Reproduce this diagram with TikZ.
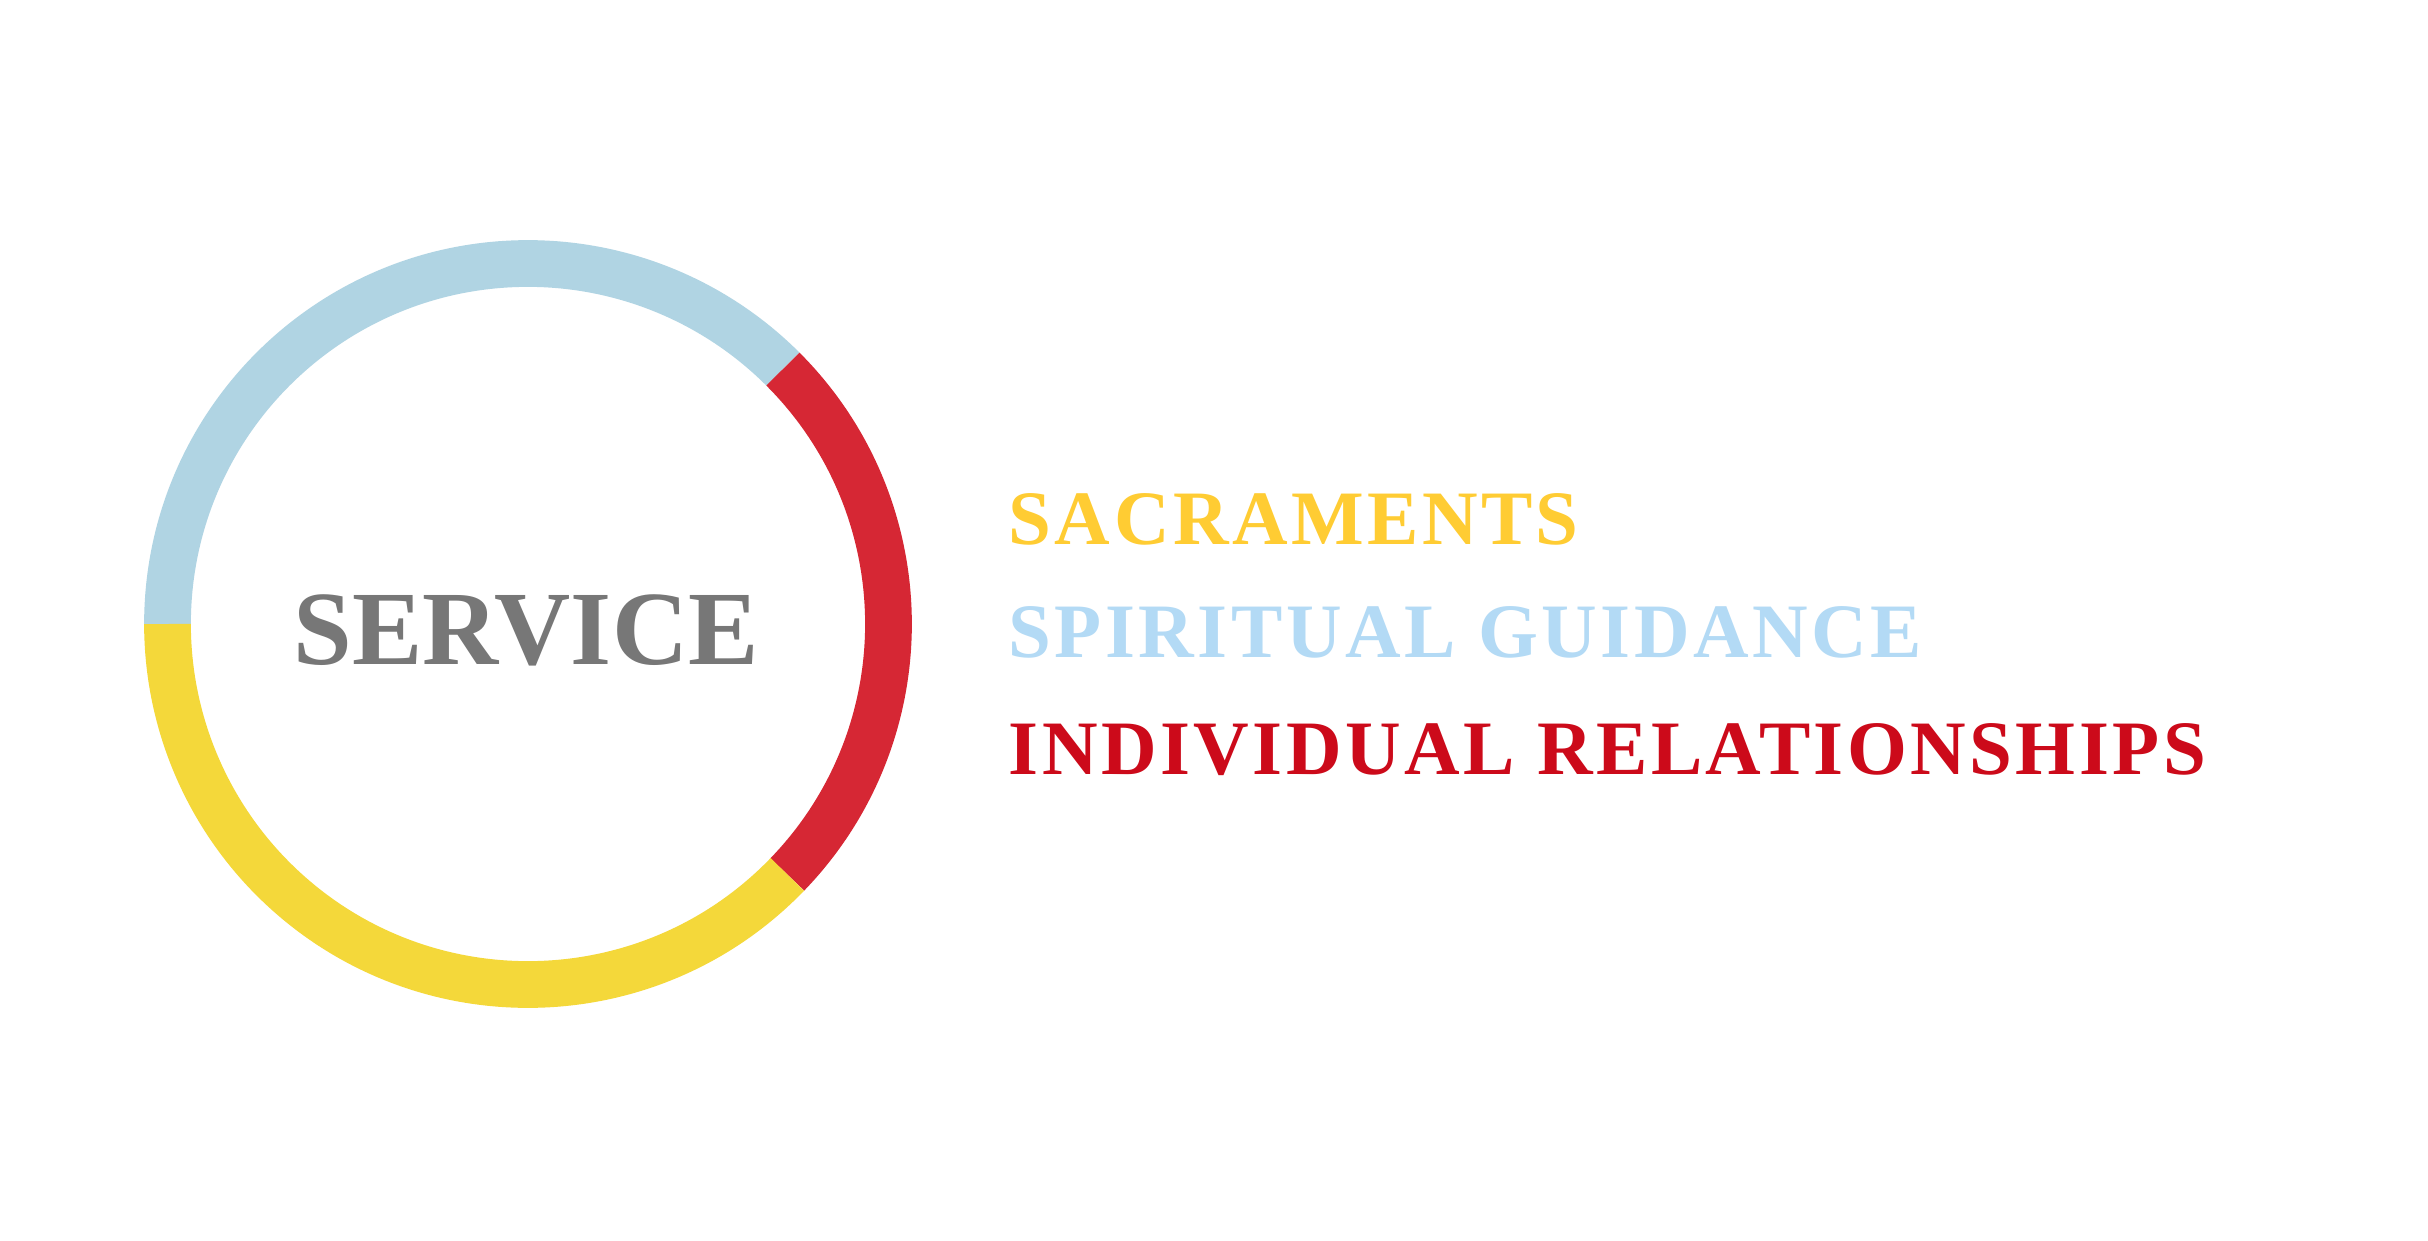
\documentclass[tikz,border=0pt]{standalone}
\usepackage{fontspec}
\usepackage{tikz}
\usepackage{tkz-euclide}
\setmainfont{Liberation Serif}
\newfontfamily\listfont[LetterSpace=4.5]{Liberation Serif}

\definecolor{ringblue}{HTML}{B0D4E3}
\definecolor{ringred}{HTML}{D62734}
\definecolor{ringyellow}{HTML}{F4D83A}
\definecolor{txtyellow}{HTML}{FFCC33}
\definecolor{txtblue}{HTML}{B3DAF5}
\definecolor{txtred}{HTML}{CC0A1A}
\definecolor{txtgray}{HTML}{777777}

\begin{document}
\begin{tikzpicture}[arcseg/.style={line width=13.3pt},
                    itemtxt/.style={anchor=base west,inner sep=0pt,font=\listfont\bfseries\fontsize{21.9}{24}\selectfont}]
        \useasboundingbox[fill=white] (0,0) rectangle (24.28,12.40);
        \tkzDefPoint(5.28,6.16){O}
        % the ring
        \draw[arcseg,ringblue] (O) ++(180:3.605) arc[start angle=180,end angle=45,radius=3.605];
        \draw[arcseg,ringred] (O) ++(45:3.605) arc[start angle=45,end angle=-44,radius=3.605];
        \draw[arcseg,ringyellow] (O) ++(-44:3.605) arc[start angle=-44,end angle=-180,radius=3.605];
        \node[anchor=base,inner sep=0pt,text=txtgray,font=\bfseries\fontsize{30}{32}\selectfont] (service) at (5.26,5.76) {SERVICE};
        % the list
        \node[itemtxt,text=txtyellow] (sacr) at (10.08,6.96) {SACRAMENTS};
        \node[itemtxt,text=txtblue] (guid) at (10.08,5.83) {SPIRITUAL GUIDANCE};
        \node[itemtxt,text=txtred] (rel) at (10.08,4.66) {INDIVIDUAL RELATIONSHIPS};
      \end{tikzpicture}
\end{document}
